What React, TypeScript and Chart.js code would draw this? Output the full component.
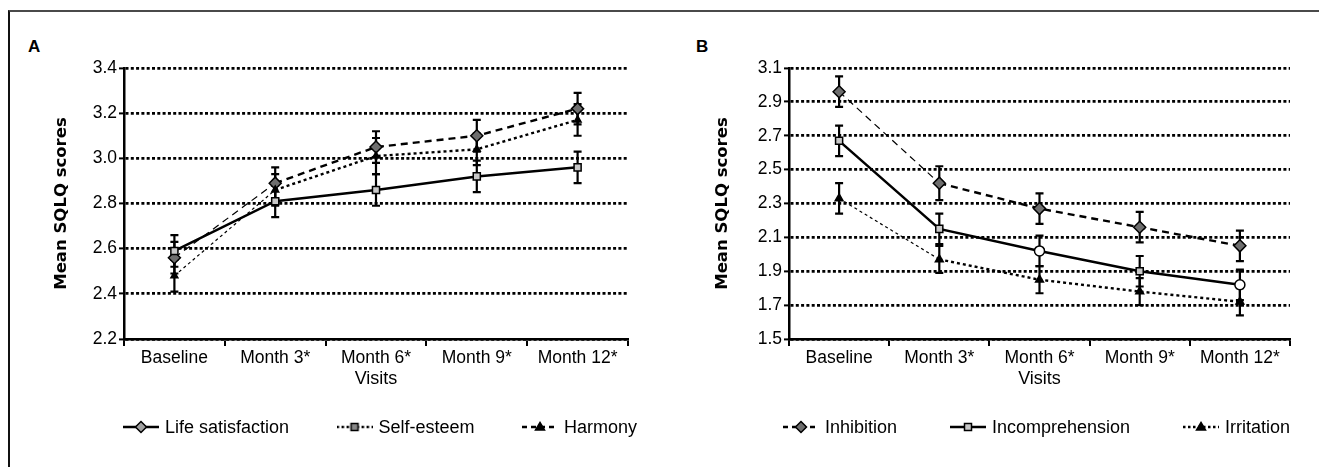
import React, { useEffect, useRef } from "react";
import { Chart, registerables } from "chart.js";

Chart.register(...registerables);

// ---------- data ----------
const visits = ["Baseline", "Month 3*", "Month 6*", "Month 9*", "Month 12*"];

// Panel A
const lifeSatisfaction = [2.59, 2.81, 2.86, 2.92, 2.96];
const lifeSatisfactionErr = [0.07, 0.07, 0.07, 0.07, 0.07];
const selfEsteem = [2.48, 2.86, 3.01, 3.04, 3.17];
const selfEsteemErr = [0.07, 0.07, 0.08, 0.07, 0.07];
const harmony = [2.56, 2.89, 3.05, 3.1, 3.22];
const harmonyErr = [0.07, 0.07, 0.07, 0.07, 0.07];
const yTicksA = [2.2, 2.4, 2.6, 2.8, 3.0, 3.2, 3.4];

// Panel B
const inhibition = [2.96, 2.42, 2.27, 2.16, 2.05];
const inhibitionErr = [0.09, 0.1, 0.09, 0.09, 0.09];
const incomprehension = [2.67, 2.15, 2.02, 1.9, 1.82];
const incomprehensionErr = [0.09, 0.09, 0.09, 0.09, 0.09];
const irritation = [2.33, 1.97, 1.85, 1.78, 1.72];
const irritationErr = [0.09, 0.08, 0.08, 0.08, 0.08];
const yTicksB = [1.5, 1.7, 1.9, 2.1, 2.3, 2.5, 2.7, 2.9, 3.1];

const FONT = "'Liberation Sans', Arial, sans-serif";
const FS = 18;
const TICK_FS = 17.5;
const DASH = [7, 5];
const DOT = [3, 3];

// ---------- helpers ----------
type LineKind = "solid" | "dashed" | "dotted";
type MarkerKind = "diamond" | "square" | "triangle";

function drawMarker(g: CanvasRenderingContext2D, kind: MarkerKind, x: number, y: number, fill: string) {
  g.setLineDash([]);
  g.fillStyle = fill;
  g.strokeStyle = "#000";
  g.lineWidth = 1.5;
  g.beginPath();
  if (kind === "diamond") {
    g.moveTo(x, y - 5.5);
    g.lineTo(x + 5.5, y);
    g.lineTo(x, y + 5.5);
    g.lineTo(x - 5.5, y);
    g.closePath();
  } else if (kind === "square") {
    g.rect(x - 3.5, y - 3.5, 7, 7);
  } else {
    g.moveTo(x, y - 4.5);
    g.lineTo(x + 4.5, y + 3);
    g.lineTo(x - 4.5, y + 3);
    g.closePath();
  }
  g.fill();
  g.stroke();
}

const SYM_W = 36;
function legendSymbol(line: LineKind, marker: MarkerKind, fill: string) {
  const c = document.createElement("canvas");
  c.width = SYM_W;
  c.height = 16;
  const g = c.getContext("2d")!;
  g.strokeStyle = "#000";
  g.lineWidth = 2.5;
  g.setLineDash(line === "solid" ? [] : line === "dashed" ? [5, 4] : [2.5, 2.5]);
  g.beginPath();
  g.moveTo(0, 8);
  g.lineTo(SYM_W, 8);
  g.stroke();
  drawMarker(g, marker, SYM_W / 2, 8, fill);
  return c;
}

const errorBarPlugin = {
  id: "errorBars",
  beforeDatasetsDraw(chart: any) {
    const ctx = chart.ctx;
    const ys = chart.scales.y;
    chart.data.datasets.forEach((ds: any, i: number) => {
      const errs: number[] | undefined = ds.errors;
      if (!errs) return;
      const meta = chart.getDatasetMeta(i);
      meta.data.forEach((pt: any, j: number) => {
        const v = ds.data[j];
        const e = errs[j];
        const top = ys.getPixelForValue(v + e);
        const bot = ys.getPixelForValue(v - e);
        const x = pt.x;
        ctx.save();
        ctx.strokeStyle = "#000";
        ctx.lineWidth = 2.2;
        ctx.setLineDash([]);
        ctx.beginPath();
        ctx.moveTo(x, top);
        ctx.lineTo(x, bot);
        ctx.moveTo(x - 4, top);
        ctx.lineTo(x + 4, top);
        ctx.moveTo(x - 4, bot);
        ctx.lineTo(x + 4, bot);
        ctx.stroke();
        ctx.restore();
      });
    });
  },
};

// Legend drawn under the axis: line sample + marker, then the series name.
const seriesLegendPlugin = {
  id: "seriesLegend",
  afterDraw(chart: any, _args: any, opts: any) {
    const items = opts.items as { text: string; symbol: HTMLCanvasElement }[];
    if (!items) return;
    const ctx = chart.ctx;
    const area = chart.chartArea;
    ctx.save();
    ctx.font = `${FS}px ${FONT}`;
    const widths = items.map((it) => SYM_W + opts.symGap + ctx.measureText(it.text).width);
    const left = area.left + opts.spanLeft;
    const right = area.right + opts.spanRight;
    const sum = widths.reduce((a, b) => a + b, 0);
    const gap = (right - left - sum) / (items.length - 1);
    const y = area.bottom + opts.offsetY;
    let x = left;
    items.forEach((it, i) => {
      ctx.drawImage(it.symbol, x, y - it.symbol.height / 2);
      ctx.fillStyle = "#000";
      ctx.textBaseline = "middle";
      ctx.textAlign = "left";
      ctx.fillText(it.text, x + SYM_W + opts.symGap, y + 1);
      x += widths[i] + gap;
    });
    ctx.restore();
  },
};

type SeriesDef = {
  label: string;
  data: number[];
  errors: number[];
  line: LineKind;
  plotMarker: any;
  plotFill: any;
  plotRadius: number;
  legendMarker: MarkerKind;
  legendFill: string;
};

function buildConfig(
  series: SeriesDef[],
  yTicks: number[],
  opts: { yWidth: number; padRight: number; titleOffset: number; spanLeft: number; spanRight: number }
) {
  const datasets = series.map((s) => ({
    label: s.label,
    data: s.data,
    errors: s.errors,
    borderColor: "#000",
    borderWidth: s.line === "solid" ? 2.5 : 2.2,
    borderDash: s.line === "solid" ? [] : s.line === "dashed" ? DASH : DOT,
    segment:
      s.line === "solid"
        ? undefined
        : {
            borderWidth: (c: any) => (c.p0DataIndex === 0 ? 1.2 : 2.4),
          },
    pointStyle: s.plotMarker,
    pointRadius: s.plotRadius,
    pointBackgroundColor: s.plotFill,
    pointBorderColor: "#000",
    pointBorderWidth: 1.5,
    tension: 0,
    fill: false,
  }));

  const items = series.map((s) => ({
    text: s.label,
    symbol: legendSymbol(s.line, s.legendMarker, s.legendFill),
  }));

  return {
    type: "line",
    data: { labels: visits, datasets },
    options: {
      animation: false,
      responsive: false,
      maintainAspectRatio: false,
      layout: { padding: { top: 56, right: opts.padRight, left: 0, bottom: 67 } },
      plugins: {
        tooltip: { enabled: false },
        legend: { display: false },
        seriesLegend: {
          items,
          symGap: 6,
          spanLeft: opts.spanLeft,
          spanRight: opts.spanRight,
          offsetY: 88,
        },
      },
      scales: {
        x: {
          type: "category",
          offset: true,
          grid: {
            display: true,
            offset: true,
            drawOnChartArea: false,
            drawTicks: true,
            tickLength: 7,
            tickWidth: 2,
            tickColor: "#000",
            color: "#000",
            lineWidth: 2,
          },
          border: { display: true, color: "#000", width: 2.5 },
          ticks: {
            color: "#000",
            font: { family: FONT, size: TICK_FS },
            padding: 2,
            maxRotation: 0,
            autoSkip: false,
          },
          title: {
            display: true,
            text: "Visits",
            color: "#000",
            font: { family: FONT, size: FS },
            padding: { top: 0, bottom: 10 },
          },
          afterFit: (s: any) => {
            s.height = 61;
          },
        },
        y: {
          type: "linear",
          min: yTicks[0],
          max: yTicks[yTicks.length - 1],
          afterBuildTicks: (s: any) => {
            s.ticks = yTicks.map((v) => ({ value: v }));
          },
          grid: {
            color: "#000",
            lineWidth: 2.8,
            drawTicks: true,
            tickLength: 5,
            tickWidth: 2,
            tickColor: "#000",
            tickBorderDash: [],
          },
          border: { display: true, color: "#000", width: 2.5, dash: [3, 2.3] },
          ticks: {
            color: "#000",
            font: { family: FONT, size: TICK_FS },
            padding: 2,
            callback: (v: any) => Number(v).toFixed(1),
          },
          title: {
            display: true,
            text: "Mean SQLQ scores",
            color: "#000",
            font: { family: "'DejaVu Sans', sans-serif", size: 16.5, weight: "bold" },
            padding: { top: opts.titleOffset, bottom: 0 },
          },
          afterFit: (s: any) => {
            s.width = opts.yWidth;
          },
        },
      },
    },
    plugins: [errorBarPlugin, seriesLegendPlugin],
  };
}

function ChartCanvas({ config, width, height, left, top }: any) {
  const ref = useRef<HTMLCanvasElement | null>(null);
  useEffect(() => {
    if (!ref.current) return;
    const chart = new Chart(ref.current, config);
    return () => chart.destroy();
  }, []);
  return (
    <canvas
      ref={ref}
      width={width}
      height={height}
      style={{ position: "absolute", left, top, width, height }}
    />
  );
}

export default function App() {
  const seriesA: SeriesDef[] = [
    {
      label: "Life satisfaction",
      data: lifeSatisfaction,
      errors: lifeSatisfactionErr,
      line: "solid",
      plotMarker: "rect",
      plotFill: "#c8c8c8",
      plotRadius: 5,
      legendMarker: "diamond",
      legendFill: "#a0a0a0",
    },
    {
      label: "Self-esteem",
      data: selfEsteem,
      errors: selfEsteemErr,
      line: "dotted",
      plotMarker: "triangle",
      plotFill: "#000",
      plotRadius: 4,
      legendMarker: "square",
      legendFill: "#888",
    },
    {
      label: "Harmony",
      data: harmony,
      errors: harmonyErr,
      line: "dashed",
      plotMarker: "rectRot",
      plotFill: "#6e6e6e",
      plotRadius: 6,
      legendMarker: "triangle",
      legendFill: "#000",
    },
  ];

  const seriesB: SeriesDef[] = [
    {
      label: "Inhibition",
      data: inhibition,
      errors: inhibitionErr,
      line: "dashed",
      plotMarker: "rectRot",
      plotFill: "#6e6e6e",
      plotRadius: 6,
      legendMarker: "diamond",
      legendFill: "#6e6e6e",
    },
    {
      label: "Incomprehension",
      data: incomprehension,
      errors: incomprehensionErr,
      line: "solid",
      plotMarker: ["rect", "rect", "circle", "rect", "circle"],
      plotFill: ["#c8c8c8", "#c8c8c8", "#ffffff", "#c8c8c8", "#ffffff"],
      plotRadius: 5,
      legendMarker: "square",
      legendFill: "#c8c8c8",
    },
    {
      label: "Irritation",
      data: irritation,
      errors: irritationErr,
      line: "dotted",
      plotMarker: "triangle",
      plotFill: "#000",
      plotRadius: 4.5,
      legendMarker: "triangle",
      legendFill: "#000",
    },
  ];

  const configA = buildConfig(seriesA, yTicksA, {
    yWidth: 113,
    padRight: 32,
    titleOffset: 41,
    spanLeft: -1,
    spanRight: 9,
  });
  const configB = buildConfig(seriesB, yTicksB, {
    yWidth: 129,
    padRight: 29,
    titleOffset: 53,
    spanLeft: -6,
    spanRight: 0,
  });

  return (
    <div
      style={{
        position: "fixed",
        left: 0,
        top: 0,
        width: 1319,
        height: 467,
        overflow: "hidden",
        background: "#fff",
      }}
    >
      <div
        style={{
          position: "absolute",
          left: 8,
          top: 10,
          width: 1320,
          height: 470,
          borderTop: "2px solid #4a4a4a",
          borderLeft: "2px solid #111",
        }}
      />
      <div
        style={{
          position: "absolute",
          left: 28,
          top: 37,
          fontFamily: FONT,
          fontWeight: "bold",
          fontSize: 17,
          color: "#000",
        }}
      >
        A
      </div>
      <div
        style={{
          position: "absolute",
          left: 696,
          top: 37,
          fontFamily: FONT,
          fontWeight: "bold",
          fontSize: 17,
          color: "#000",
        }}
      >
        B
      </div>
      <ChartCanvas config={configA} width={649} height={455} left={11} top={12} />
      <ChartCanvas config={configB} width={659} height={455} left={660} top={12} />
    </div>
  );
}
